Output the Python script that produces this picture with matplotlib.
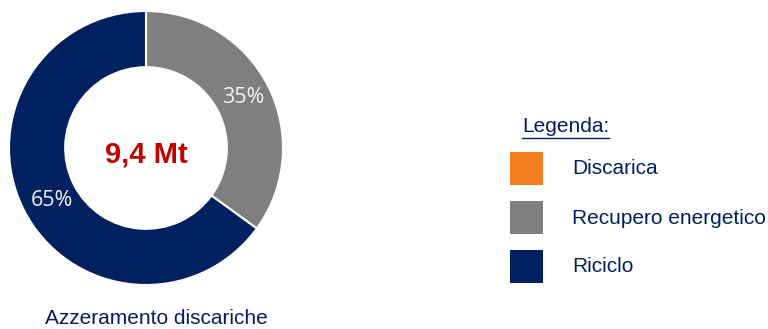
import matplotlib.pyplot as plt
from matplotlib.patches import Rectangle

# waste split for the zero-landfill scenario (share of total, %)
categories = ["Discarica", "Recupero energetico", "Riciclo"]
shares = [0, 35, 65]
colors = ["#F47F20", "#7F7F7F", "#002060"]
total_label = "9,4 Mt"
caption = "Azzeramento discariche"
legend_title = "Legenda:"

W, H = 768, 329
fig = plt.figure(figsize=(W / 100, H / 100), dpi=100)
fig.patch.set_facecolor("white")

sans = ["Liberation Sans", "DejaVu Sans"]
navy = "#002060"

# donut: centre (146, 148) px, outer radius 137 px
cx, cy, r = 146, 148, 137
ax = fig.add_axes([(cx - r) / W, (H - cy - r) / H, 2 * r / W, 2 * r / H])

# only non-zero slices go into the ring, clockwise from 12 o'clock
vals = [v for v in shares if v > 0]
cols = [c for v, c in zip(shares, colors) if v > 0]
wedges, _, autotexts = ax.pie(
    vals, colors=cols, radius=1, startangle=90, counterclock=False,
    wedgeprops=dict(width=0.41, edgecolor="white", linewidth=1.5),
    autopct="%d%%", pctdistance=0.8,
    textprops=dict(color="#F2F2F2", fontsize=15.5, family=["Open Sans", "DejaVu Sans"]),
)
ax.set_xlim(-1, 1)
ax.set_ylim(-1, 1)
ax.set_aspect("equal")
ax.axis("off")
autotexts[0].set_position((0.71, 0.37))
autotexts[1].set_position((-0.69, -0.38))
ax.text(0, -0.109, total_label, ha="center", va="baseline", color="#C00000",
        fontsize=21, fontweight="bold", family=sans)

# caption under the ring
fig.text(156 / W, 1 - 318 / H, caption, ha="center", va="center",
         color=navy, fontsize=15, family=sans)

# legend drawn in pixel coordinates
lg = fig.add_axes([0, 0, 1, 1])
lg.set_xlim(0, W)
lg.set_ylim(H, 0)
lg.axis("off")
lg.patch.set_alpha(0)

t = lg.text(522, 126, legend_title, ha="left", va="center", color=navy,
            fontsize=15, family=sans)
fig.canvas.draw()
bb = t.get_window_extent().transformed(lg.transData.inverted())
lg.plot([bb.x0, bb.x1], [138, 138], color=navy, lw=1)

for i, (name, col) in enumerate(zip(categories, colors)):
    y0 = 152 + i * 49
    lg.add_patch(Rectangle((510, y0), 33, 33, facecolor=col, edgecolor="none"))
    lg.text(572, y0 + 17, name, ha="left", va="center", color=navy,
            fontsize=15, family=sans)

fig.savefig("out.png", dpi=100, facecolor="white")
